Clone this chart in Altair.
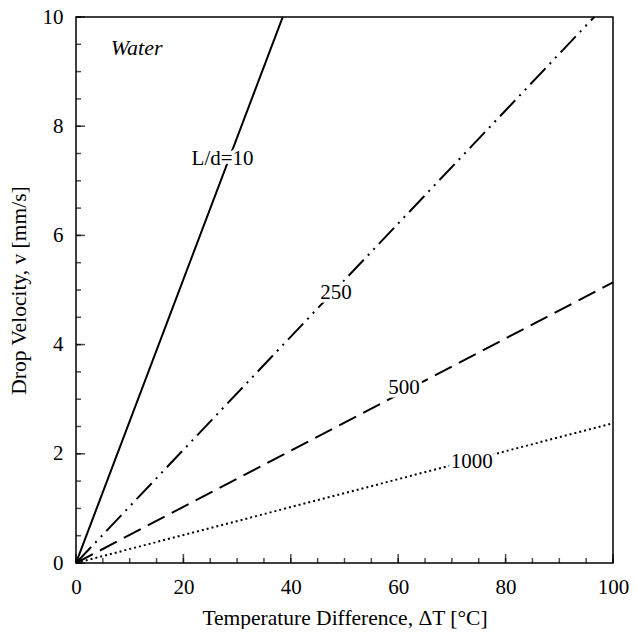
import altair as alt
import pandas as pd

FONT = "Liberation Serif"

# Lines: each runs from the origin to the point where it leaves the frame
series = ["L/d=10", "250", "500", "1000"]
dT_start = [0, 0, 0, 0]
v_start = [0, 0, 0, 0]
dT_end = [38.5, 96.5, 100, 100]
v_end = [10, 10, 5.14, 2.56]
dash_patterns = [[1, 0], [22, 6, 2, 6, 2, 6], [19, 8], [2, 3]]

# In-plot labels
label_text = ["L/d=10", "250", "500", "1000"]
label_x = [27.3, 48.4, 61.1, 73.7]
label_y = [7.40, 4.95, 3.2, 1.85]

note_text = ["Water"]
note_x = [11.3]
note_y = [9.43]

# Axis ticks (labels at the majors)
x_major = [0, 20, 40, 60, 80, 100]
x_minor = [0, 5, 10, 15, 20, 25, 30, 35, 40, 45, 50, 55, 60, 65, 70, 75, 80, 85, 90, 95, 100]
y_major = [0, 2, 4, 6, 8, 10]
y_minor = [0, 0.5, 1, 1.5, 2, 2.5, 3, 3.5, 4, 4.5, 5, 5.5, 6, 6.5, 7, 7.5, 8, 8.5, 9, 9.5, 10]

rows = []
for s, x0, y0, x1, y1 in zip(series, dT_start, v_start, dT_end, v_end):
    rows.append({"series": s, "dT": x0, "v": y0})
    rows.append({"series": s, "dT": x1, "v": y1})
lines_df = pd.DataFrame(rows)
labels_df = pd.DataFrame({"text": label_text, "dT": label_x, "v": label_y})
note_df = pd.DataFrame({"text": note_text, "dT": note_x, "v": note_y})

xs = alt.Scale(domain=[0, 100], nice=False, zero=False)
ys = alt.Scale(domain=[0, 10], nice=False, zero=False)

main_x_axis = alt.Axis(
    orient="bottom", values=x_major, ticks=False, domain=False, grid=False,
    labelFont=FONT, labelFontSize=21, labelColor="black", labelPadding=13,
    labelFlush=False,
    title="Temperature Difference, ΔT [°C]", titleFont=FONT, titleFontSize=21.5,
    titleFontWeight="normal", titleColor="black", titlePadding=10,
)
main_y_axis = alt.Axis(
    orient="left", values=y_major, ticks=False, domain=False, grid=False,
    labelFont=FONT, labelFontSize=21, labelColor="black", labelPadding=13,
    labelFlush=False,
    title="Drop Velocity, v [mm/s]", titleFont=FONT, titleFontSize=21.5,
    titleFontWeight="normal", titleColor="black", titlePadding=12,
)

lines = alt.Chart(lines_df).mark_line(color="black", strokeWidth=2).encode(
    x=alt.X("dT:Q", scale=xs, axis=main_x_axis),
    y=alt.Y("v:Q", scale=ys, axis=main_y_axis),
    detail="series:N",
    strokeDash=alt.StrokeDash(
        "series:N",
        scale=alt.Scale(domain=series, range=dash_patterns),
        legend=None,
    ),
)


def x_ticks(vals, length):
    df = pd.DataFrame({"t": vals})
    return alt.Chart(df).mark_tick(
        orient="vertical", size=length, thickness=1.5, color="black",
        yOffset=-length / 2,
    ).encode(
        x=alt.X("t:Q", scale=xs, axis=None),
        y=alt.YDatum(0, scale=ys, axis=None),
    )


def y_ticks(vals, length):
    df = pd.DataFrame({"t": vals})
    return alt.Chart(df).mark_tick(
        orient="horizontal", size=length, thickness=1.5, color="black",
        xOffset=length / 2,
    ).encode(
        x=alt.XDatum(0, scale=xs, axis=None),
        y=alt.Y("t:Q", scale=ys, axis=None),
    )


halo = alt.Chart(labels_df).mark_text(
    font=FONT, fontSize=21, fill="white", stroke="white", strokeWidth=7,
    align="center", baseline="middle",
).encode(
    x=alt.X("dT:Q", scale=xs, axis=None),
    y=alt.Y("v:Q", scale=ys, axis=None),
    text="text:N",
)
texts = alt.Chart(labels_df).mark_text(
    font=FONT, fontSize=21, color="black", align="center", baseline="middle",
).encode(
    x=alt.X("dT:Q", scale=xs, axis=None),
    y=alt.Y("v:Q", scale=ys, axis=None),
    text="text:N",
)
note = alt.Chart(note_df).mark_text(
    font=FONT, fontSize=22, fontStyle="italic", color="black",
    align="center", baseline="middle",
).encode(
    x=alt.X("dT:Q", scale=xs, axis=None),
    y=alt.Y("v:Q", scale=ys, axis=None),
    text="text:N",
)

chart = alt.layer(
    lines,
    x_ticks(x_minor, 5), x_ticks(x_major, 9),
    y_ticks(y_minor, 5), y_ticks(y_major, 9),
    halo, texts, note,
).resolve_axis(
    x="independent", y="independent"
).properties(
    width=537, height=546,
    autosize=alt.AutoSizeParams(type="none"),
    padding={"left": 68, "top": 9, "right": 16, "bottom": 66},
    background="white",
).configure_view(stroke="black", strokeWidth=1.5)

chart.save("out.html", embed_options={"renderer": "svg", "actions": False})
